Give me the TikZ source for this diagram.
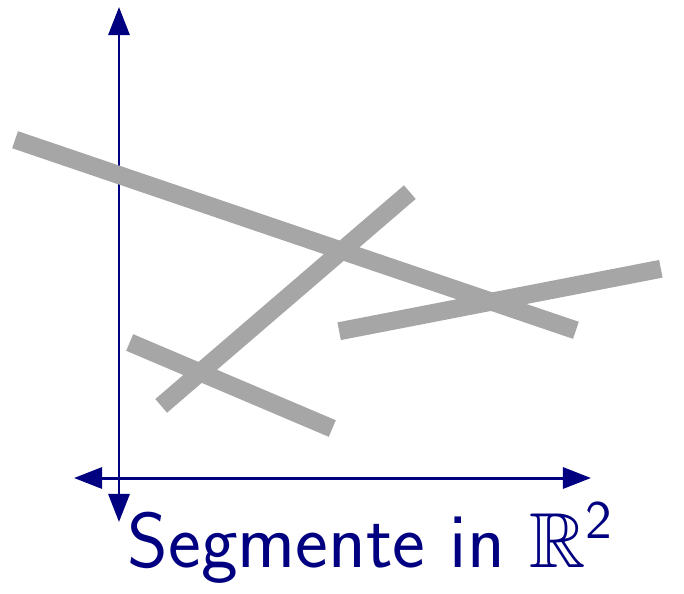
\documentclass[tikz,border=0pt]{standalone}
\usepackage{amsmath,amssymb}
\usepackage{tikz}
\usetikzlibrary{arrows.meta,positioning}
\definecolor{axisnavy}{RGB}{0,0,128}
\definecolor{seggray}{RGB}{166,166,166}

\begin{document}
\begin{tikzpicture}[x=0.01cm, y=-0.01cm,
    axis/.style={axisnavy, line width=0.85pt,
        {Triangle[length=0.28cm, width=0.21cm]}-{Triangle[length=0.28cm, width=0.21cm]}},
    segment/.style={seggray, line width=0.18cm, line cap=rect, line join=round}]
    \useasboundingbox (0,0) rectangle (684,593);

    % Draw axes
    \draw[axis] (74,478) -- (591,478);
    \draw[axis] (119,522) -- (119,7);

    % Draw the segments
    \draw[segment] (23.6,142.6) -- (567.4,327.4);
    \draw[segment] (168,400) -- (403,198);
    \draw[segment] (138,346) -- (324,425);
    \draw[segment] (348,329.5) -- (652,270.5);

    % Label
    \node[anchor=base, text=axisnavy, inner sep=0pt] (label) at (371,567)
        {\scalebox{1.07}{\huge\sffamily Segmente in $\mathbb{R}^{\mathsf{2}}$}};
\end{tikzpicture}
\end{document}
